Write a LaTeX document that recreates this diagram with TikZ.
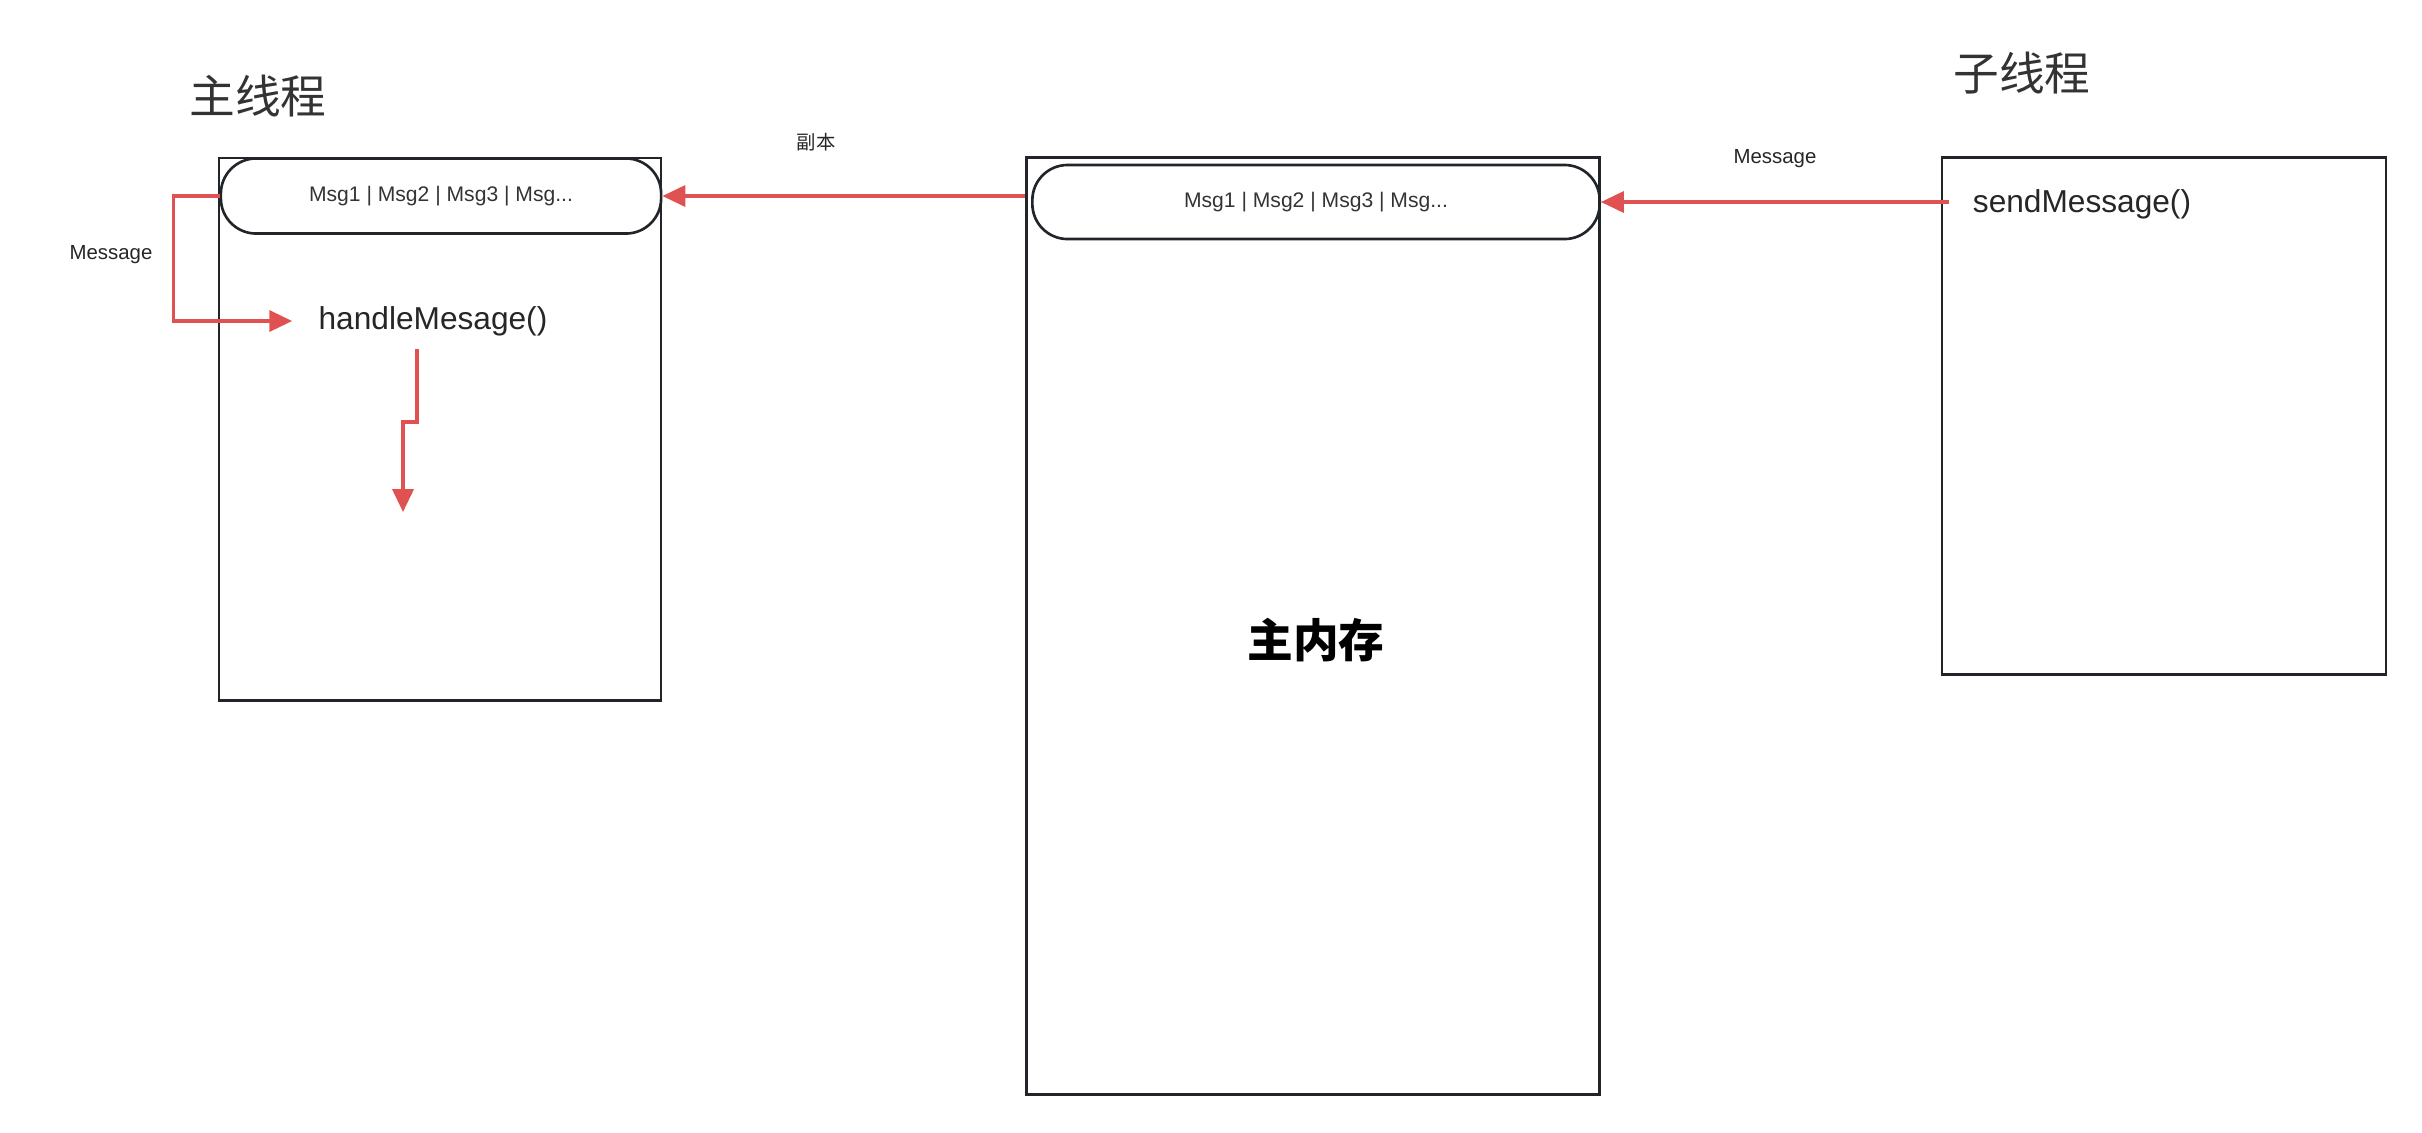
\documentclass[tikz,border=0pt]{standalone}
\usepackage{fontspec}
\setmainfont{Liberation Sans}
\newfontfamily\cjk{Noto Sans CJK SC}
\usepackage{tikz}
\usetikzlibrary{arrows.meta,positioning,calc}

\definecolor{linered}{RGB}{224,82,82}
\definecolor{boxgray}{RGB}{33,37,41}

\begin{document}
\begin{tikzpicture}[x=0.01cm, y=-0.01cm,
    threadbox/.style={draw=boxgray, line width=0.75pt, rectangle, inner sep=0pt},
    queuepill/.style={draw=boxgray, line width=0.75pt, rounded corners=10pt, inner sep=0pt, font=\fontsize{6}{7}\selectfont, text=black!80},
    flow/.style={draw=linered, line width=0.9pt, -{Triangle[length=6.5pt,width=6pt]}},
    small/.style={font=\fontsize{5.8}{7}\selectfont, text=black!85},
    title/.style={font=\cjk\fontsize{13}{15}\selectfont, text=black!80}]
    \useasboundingbox (0,0) rectangle (2422,1132);

    % Main thread
    \node[title] (maintitle) at (258,96) {主线程};
    \node[threadbox, minimum width=4.42cm, minimum height=5.42cm] (mainbox) at (440,429) {};
    \node[queuepill, minimum width=4.40cm, minimum height=0.75cm] (mainpill) at (441,196) {Msg1 | Msg2 | Msg3 | Msg...};
    \node[font=\fontsize{9}{11}\selectfont, text=black!85] (handle) at (433,321) {handleMesage()};
    \node[small] (msgleft) at (111,255) {Message};

    % Main memory
    \node[threadbox, minimum width=5.73cm, minimum height=9.37cm] (membox) at (1313,626) {};
    \node[queuepill, minimum width=5.67cm, minimum height=0.74cm] (mempill) at (1316,202) {Msg1 | Msg2 | Msg3 | Msg...};
    \node[font=\cjk\bfseries\fontsize{13}{15}\selectfont] (memlabel) at (1316,640) {主内存};
    \node[small, font=\cjk\fontsize{5.5}{7}\selectfont] (copylabel) at (816,142) {副本};

    % Worker thread
    \node[title] (subtitle) at (2022,73) {子线程};
    \node[threadbox, minimum width=4.44cm, minimum height=5.17cm] (subbox) at (2164,416) {};
    \node[font=\fontsize{9}{11}\selectfont, text=black!85] (send) at (2082,204) {sendMessage()};
    \node[small] (msgright) at (1775,159) {Message};

    % Arrows
    \coordinate (sendout) at (1949,202);
    \draw[flow] (sendout) -- (mempill.east);
    \draw[flow] (mainpill.east -| membox.west) -- (mainpill.east);
    \draw[flow, shorten >=4pt] (mainpill.west) -- ++(-46,0) |- (handle.west);
    \coordinate (loopout) at (417,349);
    \coordinate (nextmsg) at (403,512);
    \draw[flow] (loopout) -- ++(0,73) -| (nextmsg);
\end{tikzpicture}
\end{document}
